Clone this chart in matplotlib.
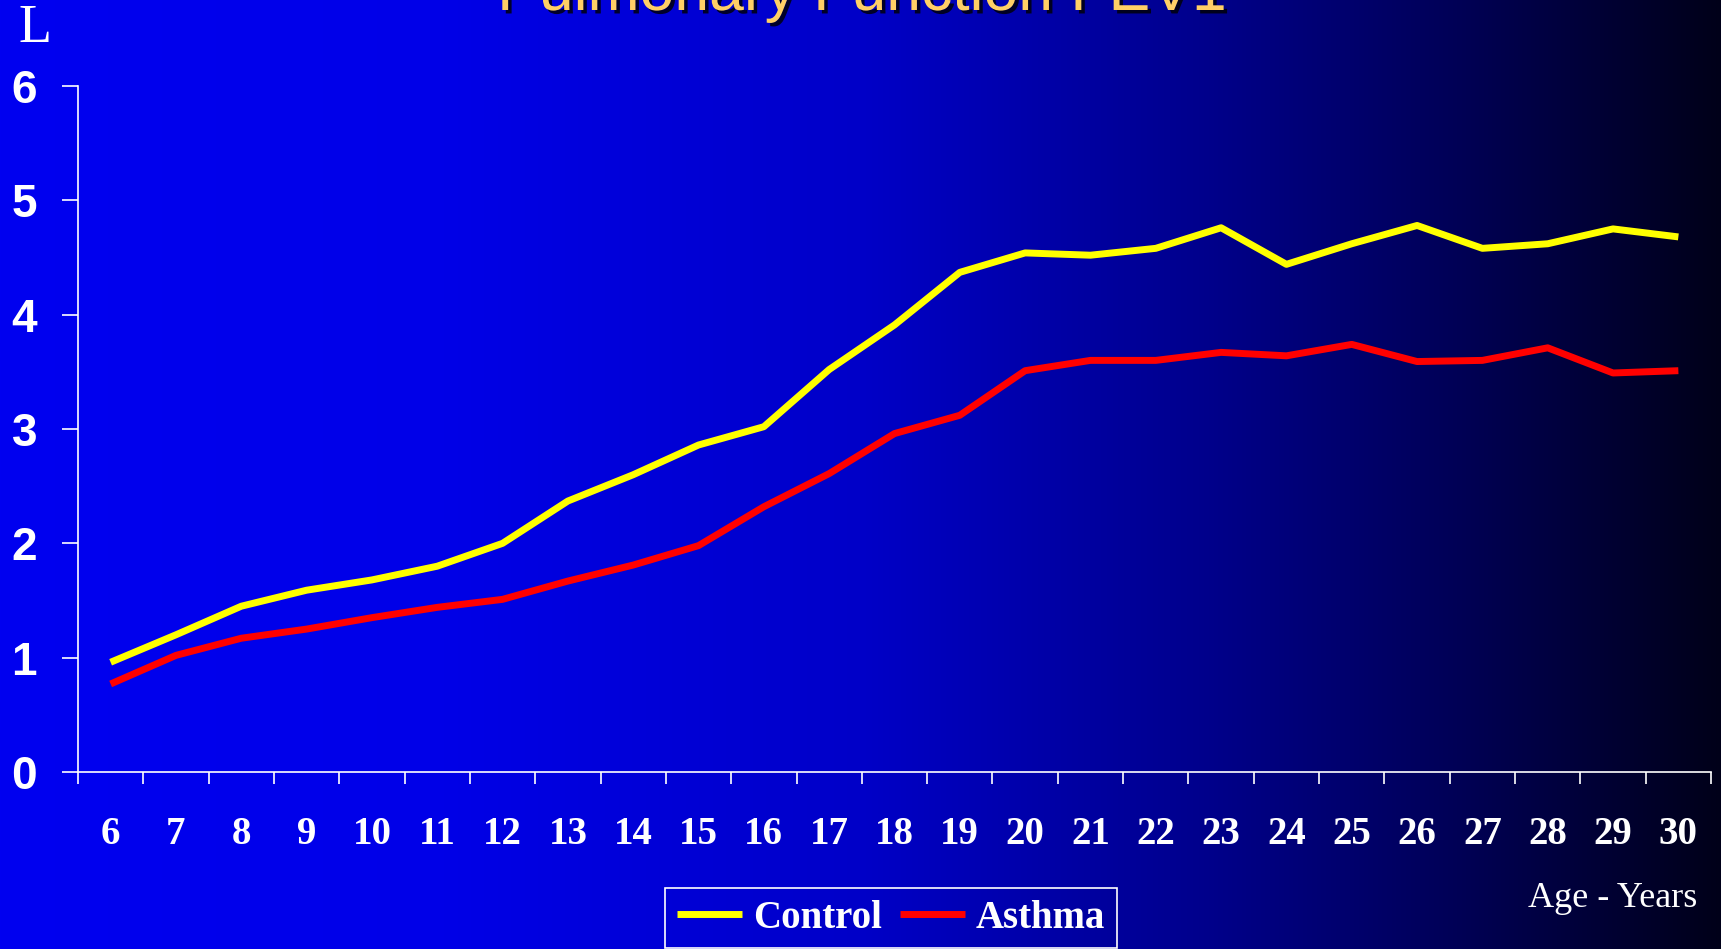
import matplotlib
matplotlib.use("Agg")
import matplotlib.pyplot as plt
import matplotlib.patheffects as pe
import numpy as np

# FEV1 by age
ages = list(range(6, 31))
control = [0.96, 1.20, 1.45, 1.59, 1.68, 1.80, 2.00, 2.37, 2.60, 2.86, 3.02, 3.52, 3.91,
           4.37, 4.54, 4.52, 4.58, 4.76, 4.44, 4.62, 4.78, 4.58, 4.62, 4.75, 4.68]
asthma = [0.77, 1.02, 1.17, 1.25, 1.35, 1.44, 1.51, 1.67, 1.81, 1.98, 2.32, 2.61, 2.96,
          3.12, 3.51, 3.60, 3.60, 3.67, 3.64, 3.74, 3.59, 3.60, 3.71, 3.49, 3.51]
yticks = [0, 1, 2, 3, 4, 5, 6]

fig = plt.figure(figsize=(17.21, 9.49), dpi=100)

# blue -> black horizontal slide background
bg = fig.add_axes([0, 0, 1, 1], zorder=0)
gx = np.linspace(0, 1, 800)
blue = np.interp(gx, [0, 0.25, 0.5, 0.7, 0.85, 1.0], [240, 232, 200, 140, 85, 25]) / 255
grad = np.zeros((1, gx.size, 3))
grad[..., 2] = blue
bg.imshow(grad, aspect="auto", extent=[0, 1, 0, 1], interpolation="bilinear")
bg.set_axis_off()

ax = fig.add_axes([0.0453, 0.1865, 0.9489, 0.7229], zorder=1)
ax.patch.set_alpha(0)

ax.plot(ages, control, color="#FFFF00", lw=5, solid_capstyle="butt", label="Control")
ax.plot(ages, asthma, color="#FF0000", lw=5, solid_capstyle="butt", label="Asthma")

ax.set_xlim(5.5, 30.5)
ax.set_ylim(0, 6)
ax.set_xticks(ages)
ax.set_xticks(np.arange(5.5, 31, 1), minor=True)
ax.set_yticks(yticks)

ax.tick_params(axis="x", which="major", length=0, pad=32, labelsize=28, labelcolor="white")
ax.tick_params(axis="x", which="minor", length=8.6, width=1.2, color="white", direction="out")
ax.tick_params(axis="y", length=11.5, width=1.2, color="white", direction="out",
               pad=18, labelsize=33, labelcolor="white")
for lbl in ax.get_xticklabels():
    lbl.set_fontfamily("Liberation Serif")
    lbl.set_fontweight("bold")
for lbl in ax.get_yticklabels():
    lbl.set_fontfamily("Liberation Sans")
    lbl.set_fontweight("bold")

for s in ["top", "right"]:
    ax.spines[s].set_visible(False)
for s in ["left", "bottom"]:
    ax.spines[s].set_color("white")
    ax.spines[s].set_linewidth(1.2)

fig.text(862 / 1721, 1 - 10 / 949, "Pulmonary Function FEV1", ha="center", va="baseline",
         family="Liberation Sans", size=45, color="#FFCF66",
         path_effects=[pe.withSimplePatchShadow(offset=(2.5, -2.5), shadow_rgbFace="black", alpha=0.8)])
fig.text(35 / 1721, 1 - 29 / 949, "L", ha="center", va="center",
         family="Liberation Serif", size=39, color="white")
fig.text(1697 / 1721, 1 - 907 / 949, "Age - Years", ha="right", va="baseline",
         family="Liberation Serif", size=26, color="white")

leg = ax.legend(loc="center", bbox_to_anchor=(891 / 1721, 1 - 918 / 949),
                bbox_transform=fig.transFigure, ncol=2, fancybox=False, framealpha=1,
                prop={"family": "Liberation Serif", "weight": "bold", "size": 28},
                handlelength=1.67, handletextpad=0.28, columnspacing=0.46, borderpad=0.3,
                labelcolor="white", edgecolor="white", facecolor="none")
leg.get_frame().set_linewidth(1.2)

fig.savefig("out.png", dpi=100)
